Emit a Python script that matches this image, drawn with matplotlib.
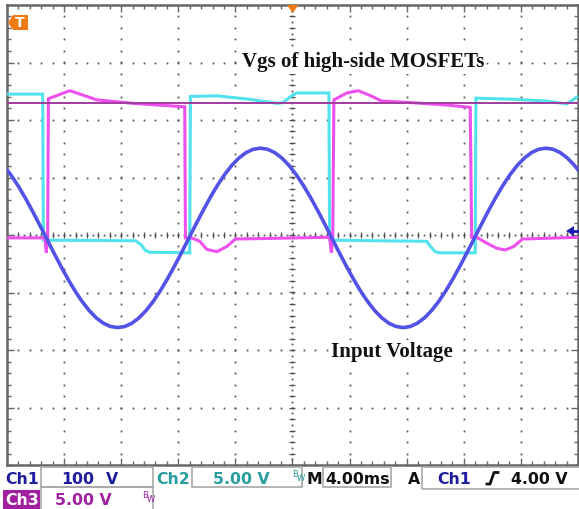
import numpy as np
import matplotlib
matplotlib.use("Agg")
import matplotlib.pyplot as plt
from matplotlib.patches import Polygon, Rectangle
from matplotlib.lines import Line2D

W, H, DPI = 579, 509, 100

# ---- scope settings (from status bar) ----
ch1_scale = 100.0   # V/div
ch2_scale = 5.0     # V/div
ch3_scale = 5.0     # V/div
timebase = 4.0      # ms/div
ground_div = -0.05  # trace ground offset (div)
ref_level_v = 11.7  # purple reference line (Ch3 volts)

# ---- Ch1: input voltage (V), sampled every 0.5 ms ----
ch1_t = np.arange(-20.25, 20.26, 0.5)
ch1_v = [126.2, 110.3, 91.7, 70.8, 48.2, 24.4, 0.0, -24.4, -48.2, -70.8, -91.7,
         -110.3, -126.2, -139.0, -148.4, -154.1, -156.0, -154.1, -148.4, -139.0,
         -126.2, -110.3, -91.7, -70.8, -48.2, -24.4, 0.0, 24.4, 48.2, 70.8, 91.7,
         110.3, 126.2, 139.0, 148.4, 154.1, 156.0, 154.1, 148.4, 139.0, 126.2,
         110.3, 91.7, 70.8, 48.2, 24.4, 0.0, -24.4, -48.2, -70.8, -91.7, -110.3,
         -126.2, -139.0, -148.4, -154.1, -156.0, -154.1, -148.4, -139.0, -126.2,
         -110.3, -91.7, -70.8, -48.2, -24.4, 0.0, 24.4, 48.2, 70.8, 91.7, 110.3,
         126.2, 139.0, 148.4, 154.1, 156.0, 154.1, 148.4, 139.0, 126.2, 110.3]

# ---- Ch2: Vgs (cyan) ----
ch2_t = [-20.0, -17.5, -17.45, -11.0, -10.6, -10.3, -10.0, -7.2, -7.15, -5.3, -3.0,
         -1.1, -0.7, 0.0, 0.3, 1.0, 2.55, 2.6, 9.4, 9.7, 10.0, 10.3, 12.8, 12.85,
         15.5, 17.8, 19.2, 19.65, 20.0]
ch2_v = [12.5, 12.5, -0.2, -0.25, -0.6, -1.1, -1.25, -1.3, 12.3, 12.35, 12.05,
         11.7, 11.75, 12.4, 12.6, 12.6, 12.6, -0.2, -0.3, -0.8, -1.2, -1.3, -1.3, 12.15,
         12.05, 11.9, 11.65, 12.0, 12.3]

# ---- Ch3: Vgs (magenta) ----
ch3_t = [-20.0, -17.35, -17.25, -17.15, -17.1, -15.6, -14.65, -13.7, -11.2, -8.8,
         -7.55, -7.5, -7.05, -6.5, -6.0, -5.3, -4.6, -4.0, 2.6, 2.72, 2.82, 2.9,
         3.8, 4.6, 5.4, 6.25, 8.45, 10.8, 12.45, 12.55, 12.9, 13.6, 14.3, 14.9,
         15.5, 16.1, 20.0]
ch3_v = [0.0, 0.0, -1.3, 0.0, 12.1, 12.8, 12.4, 12.0, 11.7, 11.5, 11.4, 0.0, 0.0,
         -0.3, -1.0, -1.2, -0.75, -0.1, 0.05, -1.3, 0.0, 12.0, 12.6, 12.8, 12.4,
         11.9, 11.75, 11.55, 11.35, 0.05, 0.05, -0.45, -0.9, -1.05, -0.75, -0.1, 0.05]

label_top = "Vgs of high-side MOSFETs"
label_bottom = "Input Voltage"

C_BLUE = "#5252e6"
C_CYAN = "#52e2ee"
C_MAG = "#ee50ee"
C_REF = "#a03ca0"
C_GRID = "#555555"

fig = plt.figure(figsize=(W / DPI, H / DPI), dpi=DPI)
fig.patch.set_facecolor("white")
ax = fig.add_axes([7 / W, 1 - 465 / H, 571 / W, 460 / H])
ax.set_xlim(-5 * timebase, 5 * timebase)
ax.set_ylim(-4, 4)
ax.set_facecolor("white")

# frame ticks
ax.set_xticks(np.arange(-20, 20.01, timebase))
ax.set_xticks(np.arange(-20, 20.01, timebase / 5), minor=True)
ax.set_yticks(np.arange(-4, 4.01, 1))
ax.set_yticks(np.arange(-4, 4.01, 0.2), minor=True)
ax.tick_params(which="both", direction="in", top=True, right=True,
               labelbottom=False, labelleft=False, color="#666666", width=1)
ax.tick_params(which="major", length=5)
ax.tick_params(which="minor", length=3)
for s in ax.spines.values():
    s.set_color("#666666")
    s.set_linewidth(1.8)

# dotted graticule
gx = np.arange(-20, 20.01, timebase / 5)
gy = np.arange(-4, 4.01, 0.2)
for yv in [-3, -2, -1, 1, 2, 3]:
    ax.plot(gx, np.full_like(gx, yv), ls="none", marker="s", ms=1.3, mew=0,
            color=C_GRID, zorder=1)
for xv in [-16, -12, -8, -4, 4, 8, 12, 16]:
    ax.plot(np.full_like(gy, xv), gy, ls="none", marker="s", ms=1.3, mew=0,
            color=C_GRID, zorder=1)
# center cross lines
cxd = np.arange(-20, 20.01, timebase / 10)
cyd = np.arange(-4, 4.01, 0.1)
ax.plot(cxd, np.zeros_like(cxd), ls="none", marker="s", ms=1.3, mew=0,
        color=C_GRID, zorder=1)
ax.plot(gx, np.zeros_like(gx), ls="none", marker="|", ms=4, mew=0.9,
        color=C_GRID, zorder=1)
ax.plot(np.zeros_like(cyd), cyd, ls="none", marker="s", ms=1.3, mew=0,
        color=C_GRID, zorder=1)
ax.plot(np.zeros_like(gy), gy, ls="none", marker="_", ms=4, mew=0.9,
        color=C_GRID, zorder=1)

# annotations
ax.text(4.95, 3.01, label_top, family="Liberation Serif", weight="bold",
        size=15, ha="center", va="center", color="#111111", zorder=2,
        bbox=dict(fc="white", ec="none", pad=1.5))
ax.text(6.94, -2.03, label_bottom, family="Liberation Serif", weight="bold",
        size=15, ha="center", va="center", color="#111111", zorder=2,
        bbox=dict(fc="white", ec="none", pad=1.5))

# traces
def to_div(v, scale):
    return np.asarray(v) / scale + ground_div

ax.plot(ch2_t, to_div(ch2_v, ch2_scale), color=C_CYAN, lw=2.2, zorder=3,
        solid_joinstyle="miter")
ax.plot(ch3_t, to_div(ch3_v, ch3_scale), color=C_MAG, lw=2.2, zorder=4,
        solid_joinstyle="miter")
ax.axhline(ref_level_v / ch3_scale + ground_div, color=C_REF, lw=1.4, zorder=5)
ax.plot(ch1_t, to_div(ch1_v, ch1_scale), color=C_BLUE, lw=2.6, zorder=6)

# ---- markers in pixel coords ----
def P(x, y):
    return (x / W, 1 - y / H)

def poly(pts, color, z=10):
    fig.add_artist(Polygon([P(*p) for p in pts], closed=True, fc=color,
                           ec="none", transform=fig.transFigure, zorder=z))

# trigger position marker (top-left)
poly([(8, 22.5), (13, 15), (28, 15), (28, 30), (13, 30)], "#f07a14")
fig.text(*P(20, 22.8), "T", color="white", weight="bold", size=10,
         ha="center", va="center", zorder=11)
# trigger position triangle top centre
poly([(287, 5), (298.5, 5), (292.7, 13)], "#f07a14")
# Ch1 level marker (right)
poly([(566, 231), (574, 226), (574, 236)], "#1c1cb0")
fig.add_artist(Line2D([P(573, 231)[0], P(579, 231)[0]], [P(0, 231)[1]] * 2,
                      color="#1c1cb0", lw=2, transform=fig.transFigure, zorder=10))

# ---- status bar ----
def box(x0, y0, x1, y1):
    fig.add_artist(Rectangle(P(x0, y1), (x1 - x0) / W, (y1 - y0) / H, fc="none",
                             ec="#a8a8a8", lw=1.2, transform=fig.transFigure))

def txt(x, y, s, color, size=11.3, weight="bold", **kw):
    fig.text(*P(x, y), s, color=color, size=size, ha="left", va="baseline",
             family="DejaVu Sans", weight=weight, **kw)

C_CH1 = "#1c1c9c"
C_CH2 = "#2a9e9e"
C_CH3 = "#a020a0"

box(41, 467, 153, 487)
box(192, 467, 302, 487)
box(323, 467, 391, 487)
box(422, 467, 582, 489)
box(41, 487, 153, 512)

txt(5, 484.5, "Ch1", C_CH1)
txt(61, 484.5, "100", C_CH1)
txt(106, 484.5, "V", C_CH1)
txt(156, 484.5, "Ch2", C_CH2)
txt(213, 484.5, "5.00 V", C_CH2)
txt(292, 477, "B", C_CH2, size=6, weight="normal")
txt(297, 481, "W", C_CH2, size=6, weight="normal")
txt(306, 484.5, "M", "#111111")
txt(325, 484.5, "4.00ms", "#111111")
txt(408, 484.5, "A", "#111111")
txt(437, 484.5, "Ch1", C_CH1)
txt(511, 484.5, "4.00 V", "#111111")
# rising-edge symbol
xs, ys = zip(*[P(487, 484), P(490, 484), P(494, 472.5), P(498, 472.5)])
fig.add_artist(Line2D(xs, ys, color="#111111", lw=2, transform=fig.transFigure))

fig.add_artist(Rectangle(P(3, 509), 37 / W, 19 / H, fc=C_CH3, ec="none",
                         transform=fig.transFigure))
txt(5, 505, "Ch3", "white")
txt(55, 505, "5.00 V", C_CH3)
txt(142, 498, "B", C_CH3, size=6, weight="normal")
txt(147, 502, "W", C_CH3, size=6, weight="normal")

fig.savefig("out.png", dpi=DPI)
